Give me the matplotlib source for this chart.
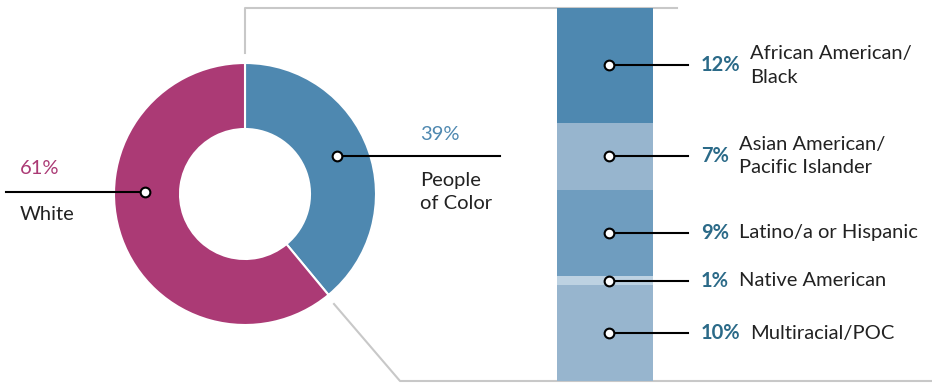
import matplotlib
matplotlib.use("Agg")
import matplotlib.pyplot as plt
import numpy as np

plt.rcParams["font.family"] = ["Lato", "DejaVu Sans"]

# ---------------------------------------------------------------------------
# Data
# ---------------------------------------------------------------------------
donut_labels = ["People\nof Color", "White"]
donut_values = [39, 61]
donut_colors = ["#4E88B0", "#AB3A75"]

poc_labels = ["African American/\nBlack", "Asian American/\nPacific Islander",
              "Latino/a or Hispanic", "Native American", "Multiracial/POC"]
poc_values = [12, 7, 9, 1, 10]
poc_colors = ["#4E88B0", "#97B5CE", "#6F9DBF", "#BDD2E2", "#97B5CE"]

W, H = 932, 383
GRAY = "#C8C8C8"
TEAL = "#2B6A88"
INK = "#222222"
FS = 14.5
LS = 1.45


def py(y):
    """Convert a pixel row (top-down) to the y-up data space of the main axes."""
    return H - y


fig = plt.figure(figsize=(W / 100, H / 100), dpi=100)
ax = fig.add_axes([0, 0, 1, 1])

# Donut
cx, cy, r_out, r_in = 245, py(194), 131, 65
ax.pie(donut_values, colors=donut_colors, startangle=90, counterclock=False,
       center=(cx, cy), radius=r_out,
       wedgeprops=dict(width=r_out - r_in, edgecolor="white", linewidth=1.5))
ax.set_xlim(0, W)
ax.set_ylim(0, H)
ax.set_aspect("auto")
ax.axis("off")

# Connector lines from the donut to the breakdown bar
ax.plot([245, 245, 677], [py(53), py(8), py(8)], color=GRAY, lw=1.5, zorder=0)
ax.plot([334, 400, W], [py(304), py(381), py(381)], color=GRAY, lw=1.5, zorder=0)


def leader(axis, x_dot, x_end, y):
    axis.plot([x_dot, x_end], [y, y], color="black", lw=1.5, clip_on=False, zorder=4)
    axis.plot([x_dot], [y], marker="o", ms=7, mfc="white", mec="black", mew=1.5,
              clip_on=False, zorder=5)


# Donut callouts
txt = dict(fontsize=FS, color=INK, va="center", ha="left")
leader(ax, 145, 6, py(192))
ax.text(20, py(169), f"{donut_values[1]}%", **{**txt, "color": donut_colors[1]})
ax.text(20, py(214), donut_labels[1], **txt)

leader(ax, 337, 500, py(156))
ax.text(420, py(135), f"{donut_values[0]}%", **{**txt, "color": donut_colors[0]})
ax.text(420, py(192), donut_labels[0], linespacing=LS, **txt)

# Breakdown bar of the People of Color slice
bx = fig.add_axes([557 / W, 2 / H, 96 / W, 373 / H])
total = sum(poc_values)
bottoms = np.concatenate([[0], np.cumsum(poc_values)[:-1]])
bx.bar(0.5, poc_values, width=1.0, bottom=bottoms, color=poc_colors, linewidth=0)
bx.set_xlim(0, 1)
bx.set_ylim(total, 0)
bx.axis("off")

for val, lab, b in zip(poc_values, poc_labels, bottoms):
    yc = b + val / 2
    leader(bx, 0.54, 1.365, yc)
    pct = bx.text(1.50, yc, f"{val}%", fontsize=FS, fontweight="bold", color=TEAL,
                  va="center", ha="left", clip_on=False)
    bx.annotate(lab, xy=(1, 0.5), xycoords=pct, xytext=(7, 0),
                textcoords="offset points", fontsize=FS, color=INK,
                va="center", ha="left", linespacing=LS, annotation_clip=False)

fig.savefig("out.png", dpi=100)
